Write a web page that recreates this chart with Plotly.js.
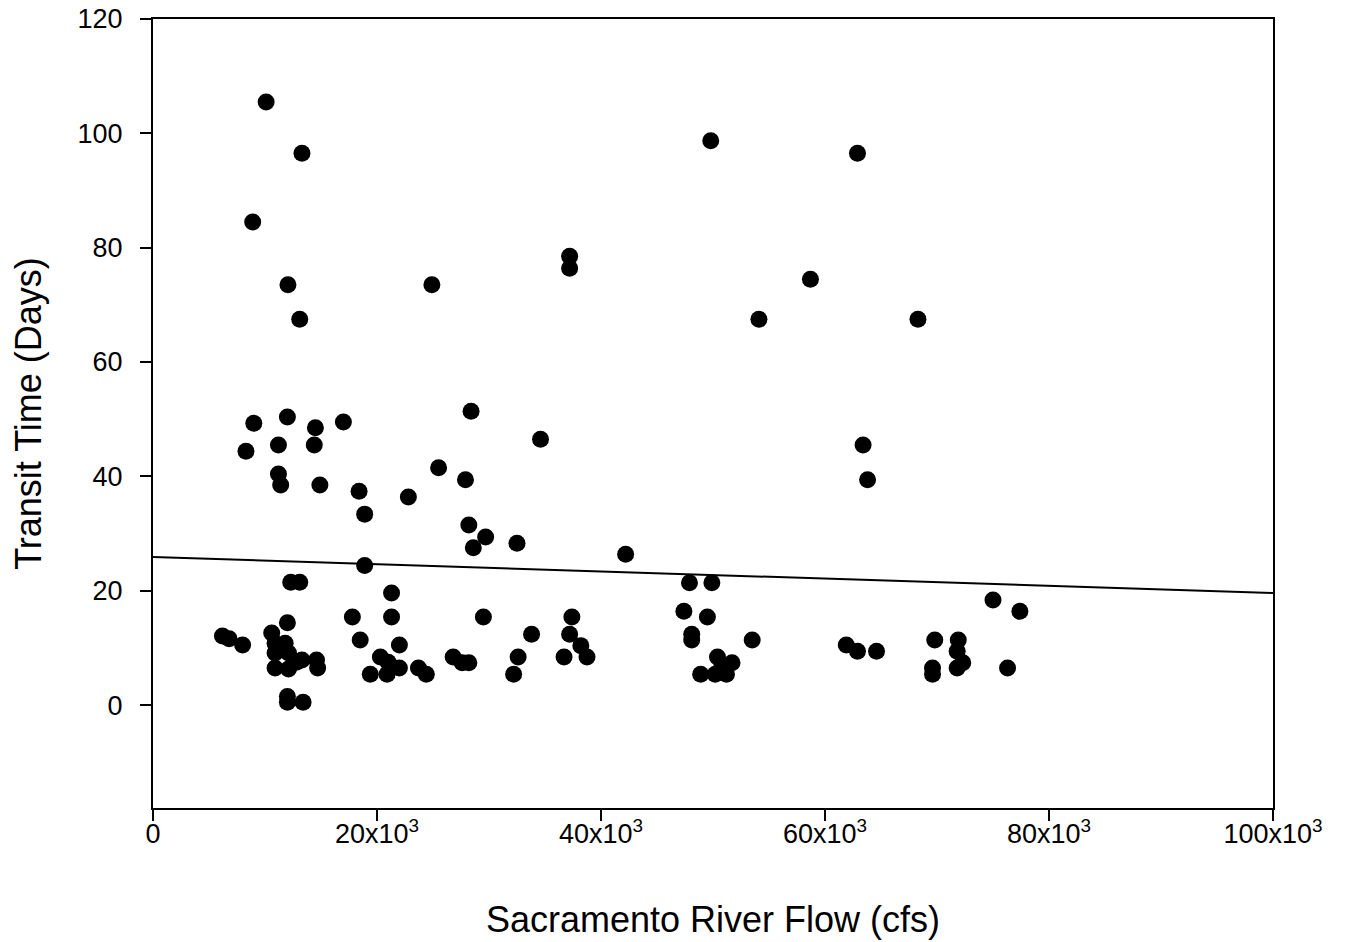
<!DOCTYPE html>
<html>
<head>
<meta charset="utf-8">
<script src="https://cdn.plot.ly/plotly-3.0.1.min.js"></script>
<style>
  html, body { margin: 0; padding: 0; background: #ffffff; }
  #chart { width: 1350px; height: 942px; }
</style>
</head>
<body>
<div id="chart"></div>
<script>
// Sacramento River Flow (cfs)
const flow = [
  10100, 13300, 8900, 12050, 13100, 24900, 37200, 37200, 49800, 54100, 58700, 62900, 68300, 63400, 63800, 34600, 42200,
  9000, 8300, 12000, 11200, 14500, 14400, 17000, 11200, 11400, 14900, 18400, 18900, 18900, 22800, 25500, 28400, 27900, 28200, 28600, 29700, 32500,
  6200, 6800, 8000, 12300, 13100, 12000, 10600, 10900, 10900, 10900, 12100, 13300, 14600, 14700, 12100, 11800, 12000, 12000, 13400, 12800,
  17800, 21300, 21300, 29500, 18500, 22000, 20300, 21000, 22000, 19400, 20900, 23700, 24400, 26800, 27600, 28200, 33800, 37400, 37200, 38200, 36700, 38750, 32600, 32200,
  47900, 49900, 47400, 49500, 48100, 48100, 53500, 50400, 51700, 48900, 50200, 51200, 50800,
  75000, 77400, 69800, 71900, 71800, 72300, 71800, 69600, 69600, 76300, 61900, 62900, 64600
];
// Transit Time (Days)
const transit = [
  105.5, 96.5, 84.5, 73.5, 67.5, 73.5, 78.5, 76.4, 98.7, 67.5, 74.5, 96.5, 67.5, 45.5, 39.4, 46.5, 26.4,
  49.3, 44.4, 50.4, 45.5, 48.5, 45.5, 49.5, 40.4, 38.5, 38.5, 37.4, 33.4, 24.4, 36.4, 41.5, 51.4, 39.4, 31.5, 27.5, 29.4, 28.3,
  12.1, 11.6, 10.5, 21.5, 21.5, 14.4, 12.6, 10.8, 9.1, 6.5, 6.3, 7.9, 7.9, 6.5, 9.1, 10.8, 1.5, 0.5, 0.5, 7.5,
  15.4, 19.6, 15.4, 15.4, 11.4, 10.5, 8.4, 7.5, 6.5, 5.4, 5.4, 6.5, 5.4, 8.4, 7.4, 7.4, 12.4, 15.4, 12.4, 10.4, 8.4, 8.4, 8.4, 5.4,
  21.4, 21.4, 16.4, 15.4, 12.4, 11.4, 11.4, 8.4, 7.4, 5.4, 5.4, 5.4, 7.0,
  18.4, 16.4, 11.4, 11.4, 9.4, 7.4, 6.5, 6.5, 5.4, 6.5, 10.5, 9.4, 9.4
];
// Regression line end points
const fitFlow = [0, 100000];
const fitTransit = [25.9, 19.6];

// Axis ticks
const xTickVals = [0, 20000, 40000, 60000, 80000, 100000];
const xTickText = ['0', '20x10<sup>3</sup>', '40x10<sup>3</sup>', '60x10<sup>3</sup>', '80x10<sup>3</sup>', '100x10<sup>3</sup>'];
const yTickVals = [0, 20, 40, 60, 80, 100, 120];

const font = 'Liberation Sans, Arial, Helvetica, sans-serif';

const traces = [
  {
    x: flow, y: transit, type: 'scatter', mode: 'markers',
    marker: { symbol: 'circle', size: 17, color: '#000000', line: { width: 0 } },
    hoverinfo: 'x+y', showlegend: false
  },
  {
    x: fitFlow, y: fitTransit, type: 'scatter', mode: 'lines',
    line: { color: '#000000', width: 2 },
    hoverinfo: 'skip', showlegend: false
  }
];

const layout = {
  width: 1350, height: 942,
  margin: { l: 153, r: 77, t: 19, b: 134, pad: 0 },
  paper_bgcolor: '#ffffff', plot_bgcolor: '#ffffff',
  font: { family: font, color: '#000000', size: 27 },
  showlegend: false,
  xaxis: {
    range: [0, 100000],
    tickmode: 'array', tickvals: xTickVals, ticktext: xTickText,
    ticks: 'outside', ticklen: 11, tickwidth: 2, tickcolor: '#000000',
    ticklabelstandoff: -10,
    showline: true, linecolor: '#000000', linewidth: 2, mirror: true,
    showgrid: false, zeroline: false,
    tickfont: { family: font, size: 27, color: '#000000' },
    title: { text: 'Sacramento River Flow (cfs)', font: { family: font, size: 36, color: '#000000' }, standoff: 58 }
  },
  yaxis: {
    range: [-18, 120],
    tickmode: 'array', tickvals: yTickVals,
    ticks: 'outside', ticklen: 11, tickwidth: 2, tickcolor: '#000000',
    ticklabelstandoff: 12,
    showline: true, linecolor: '#000000', linewidth: 2, mirror: true,
    showgrid: false, zeroline: false,
    tickfont: { family: font, size: 27, color: '#000000' },
    title: { text: 'Transit Time (Days)', font: { family: font, size: 36, color: '#000000' }, standoff: 25 }
  }
};

Plotly.newPlot('chart', traces, layout, { displayModeBar: false, staticPlot: false });
</script>
</body>
</html>
